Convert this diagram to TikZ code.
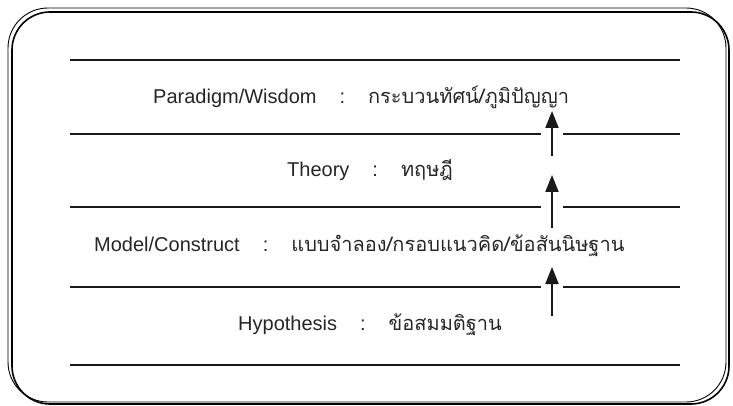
\documentclass[tikz,border=0pt]{standalone}
\usepackage{fontspec}
\setmainfont{Liberation Sans}
\newfontfamily\thaifont[Script=Thai]{Loma}
\usetikzlibrary{arrows.meta}

\newcommand{\sepcolon}{\hspace{1.15em}:\hspace{1.15em}}

\tikzset{
  frameouter/.style={line width=0.9pt, rounded corners=40pt},
  frameinner/.style={line width=1.6pt, rounded corners=38pt},
  level/.style={line width=2.2pt, color=black!90},
  label/.style={font=\fontsize{20}{22}\selectfont, color=black!85,
    inner sep=0pt, anchor=west},
  upward/.style={line width=2pt, color=black!90,
    -{Triangle[length=17pt,width=13pt]}, shorten >=0pt}
}

\begin{document}
\begin{tikzpicture}[x=1pt, y=-1pt]
  \useasboundingbox (0,0) rectangle (733,406);

  % double-stroked rounded frame
  \draw[frameouter] (8,8) rectangle (726,402);
  \draw[frameinner] (12,12) rectangle (729,404);

  % level lines (gaps where the arrows pass)
  \coordinate (l1a) at (70,60);  \coordinate (l1b) at (680,60);
  \coordinate (l2a) at (70,134); \coordinate (l2m) at (541,134);
  \coordinate (l2n) at (563,134); \coordinate (l2b) at (680,134);
  \coordinate (l3a) at (70,207); \coordinate (l3m) at (541,207);
  \coordinate (l3n) at (563,207); \coordinate (l3b) at (680,207);
  \coordinate (l4a) at (70,287); \coordinate (l4m) at (541,287);
  \coordinate (l4n) at (563,287); \coordinate (l4b) at (680,287);
  \coordinate (l5a) at (70,365); \coordinate (l5b) at (680,365);

  \draw[level] (l1a) -- (l1b);
  \draw[level] (l2a) -- (l2m);  \draw[level] (l2n) -- (l2b);
  \draw[level] (l3a) -- (l3m);  \draw[level] (l3n) -- (l3b);
  \draw[level] (l4a) -- (l4m);  \draw[level] (l4n) -- (l4b);
  \draw[level] (l5a) -- (l5b);

  % level labels
  \node[label] (paradigm) at (153,97)
    {Paradigm/Wisdom\sepcolon{\thaifont กระบวนทัศน์/ภูมิปัญญา}};
  \node[label] (theory) at (287,170)
    {Theory\sepcolon{\thaifont ทฤษฎี}};
  \node[label] (model) at (94,246)
    {Model/Construct\sepcolon{\thaifont แบบจำลอง/กรอบแนวคิด/ข้อสันนิษฐาน}};
  \node[label] (hypo) at (238,325)
    {Hypothesis\sepcolon{\thaifont ข้อสมมติฐาน}};

  % upward arrows between levels
  \coordinate (a1s) at (552,156); \coordinate (a1e) at (552,111);
  \coordinate (a2s) at (552,228); \coordinate (a2e) at (552,175);
  \coordinate (a3s) at (552,316); \coordinate (a3e) at (552,267);
  \draw[upward] (a1s) -- (a1e);
  \draw[upward] (a2s) -- (a2e);
  \draw[upward] (a3s) -- (a3e);
\end{tikzpicture}
\end{document}
